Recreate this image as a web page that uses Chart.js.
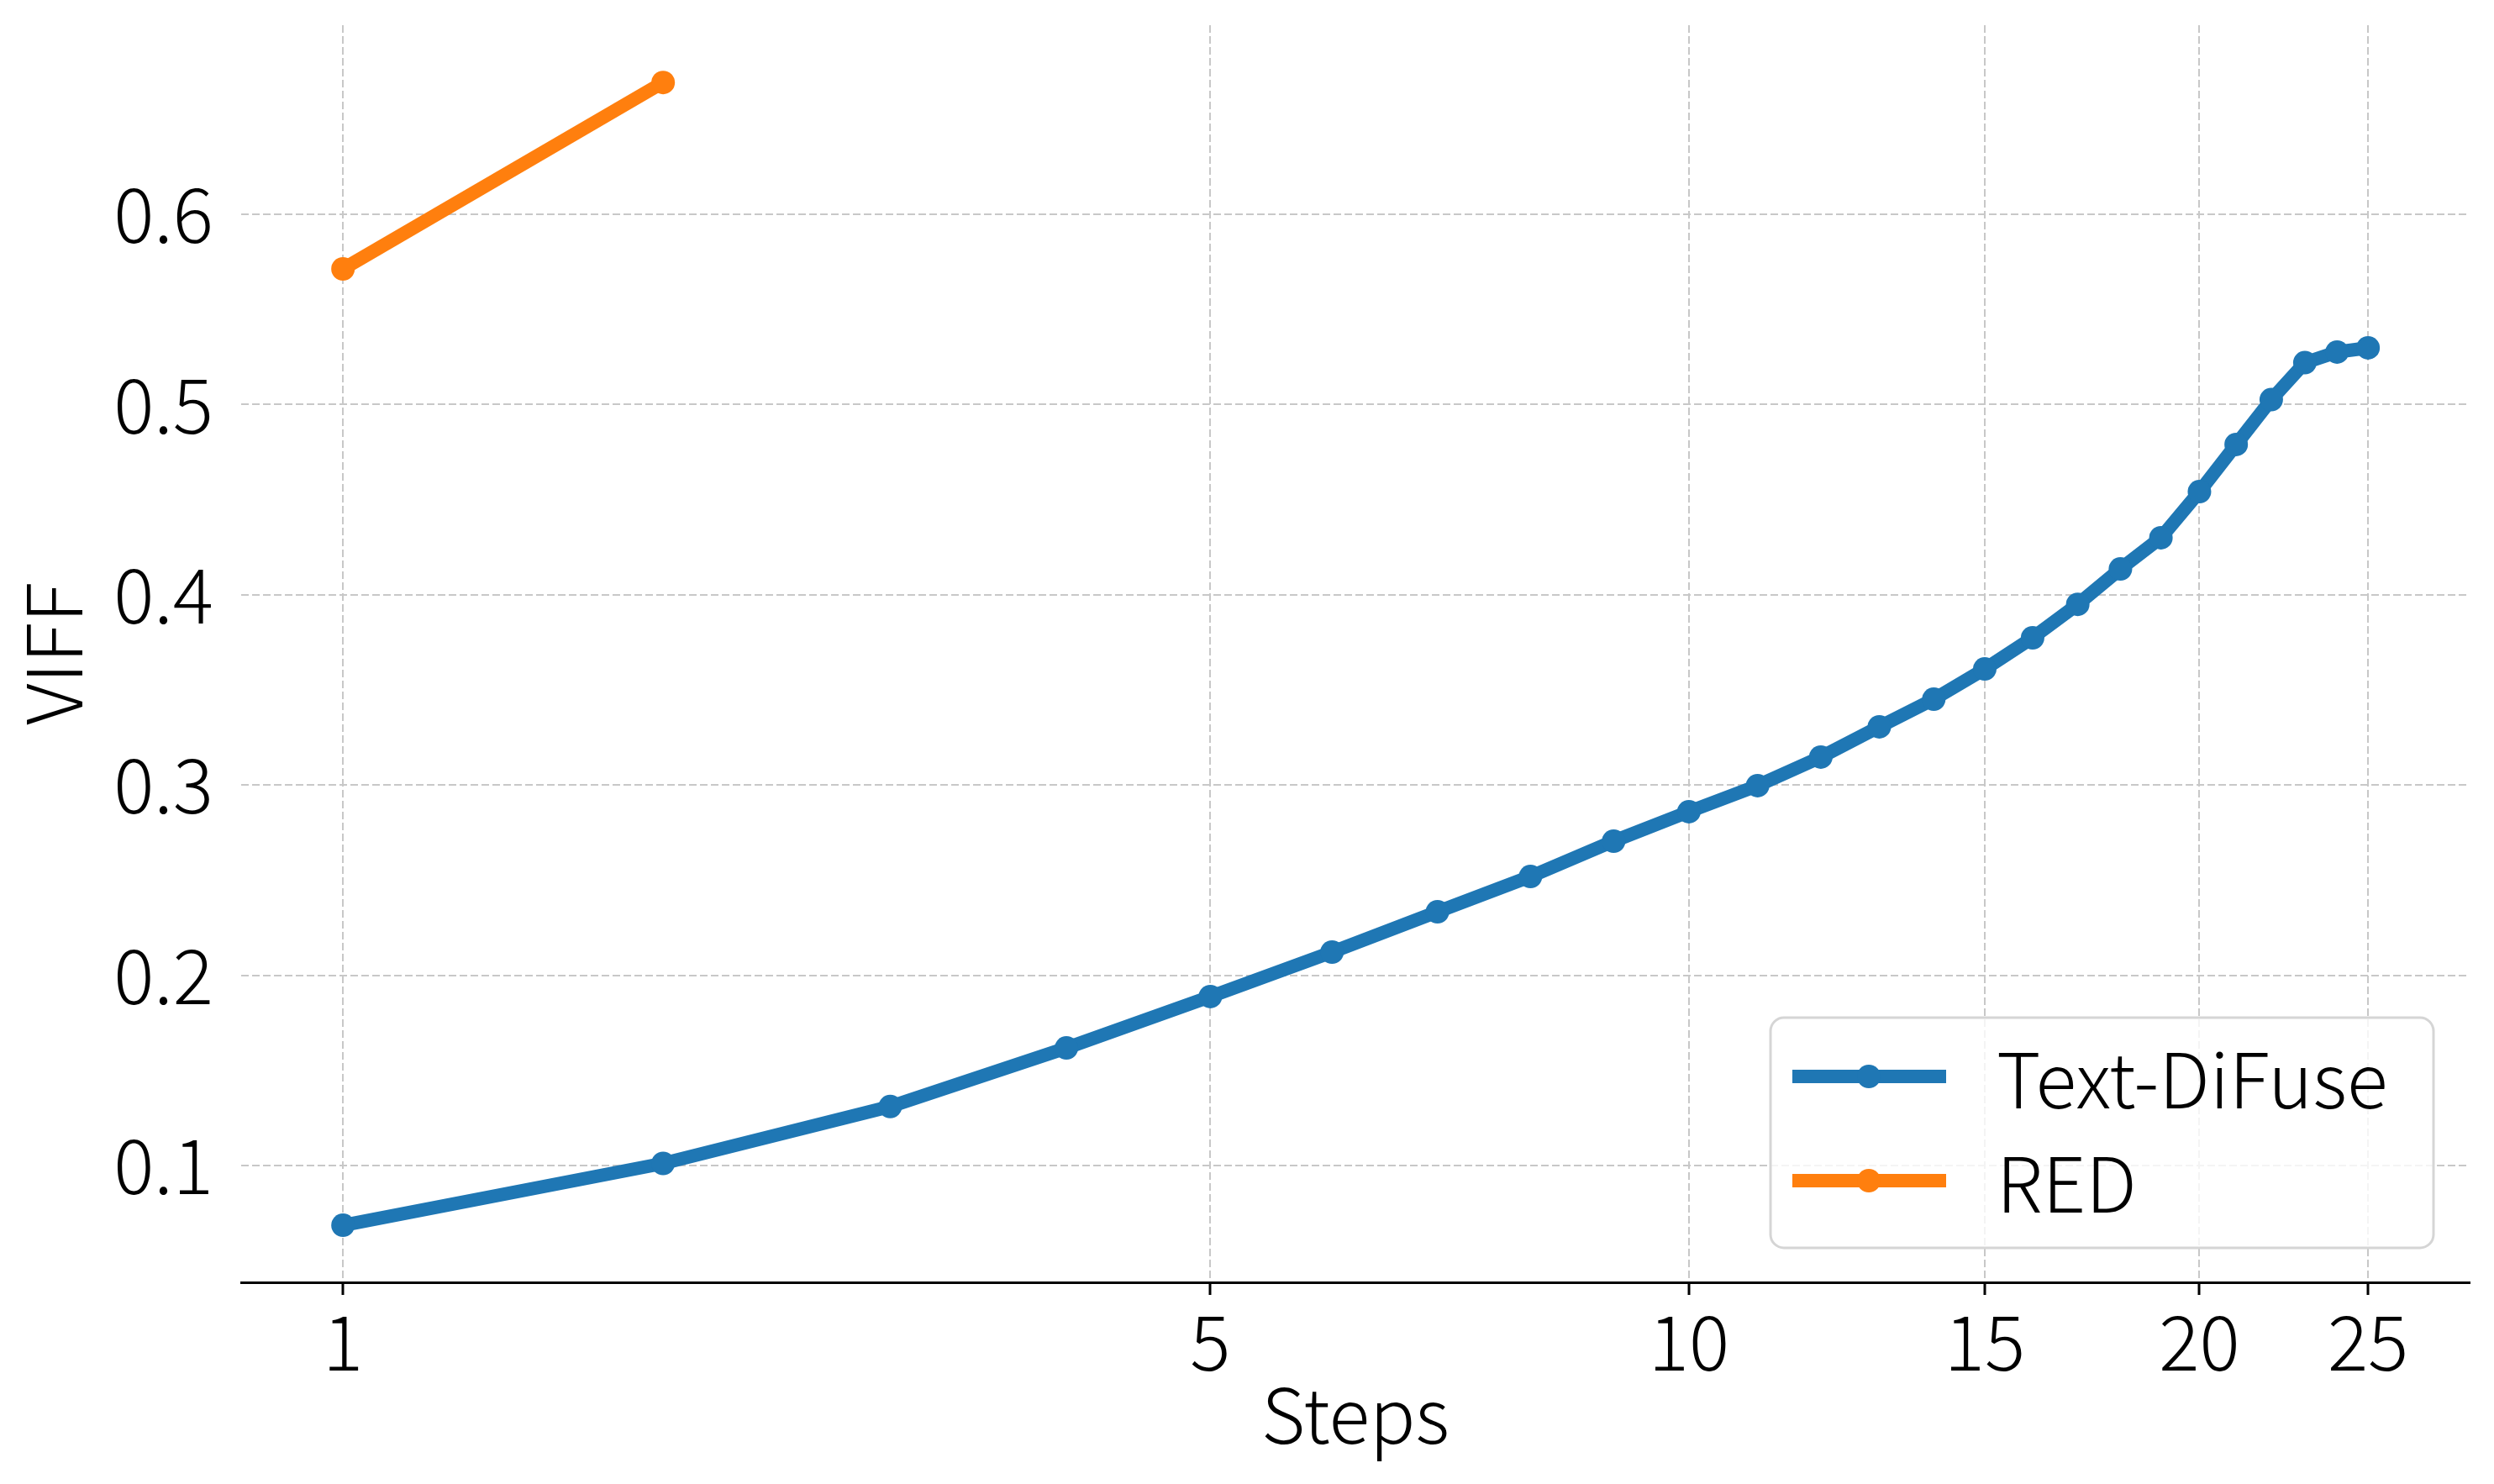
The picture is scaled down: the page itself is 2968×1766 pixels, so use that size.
<!DOCTYPE html>
<html>
<head>
<meta charset="utf-8">
<script src="https://cdn.jsdelivr.net/npm/chart.js@4.4.0/dist/chart.umd.min.js"></script>
<style>
  body { margin: 0; background: #fff; }
  canvas { display: block; }
</style>
</head>
<body>
<canvas id="chart" width="2968" height="1766"></canvas>
<script>
// data
const textDiFuseSteps = [1, 2, 3, 4, 5, 6, 7, 8, 9, 10, 11, 12, 13, 14, 15, 16, 17, 18, 19, 20, 21, 22, 23, 24, 25];
const textDiFuseViff = [0.0686, 0.1011, 0.131, 0.1618, 0.1888, 0.2122, 0.2334, 0.2519, 0.2705, 0.286,
    0.2997, 0.3147, 0.3306, 0.3451, 0.361, 0.3774, 0.395, 0.4136, 0.430, 0.4542,
    0.479, 0.5026, 0.522, 0.5276, 0.5298];
const redSteps = [1, 2];
const redViff = [0.5713, 0.6693];
const xTicks = [1, 5, 10, 15, 20, 25];
const yTicks = [0.1, 0.2, 0.3, 0.4, 0.5, 0.6];

const FONT = '"Noto Sans CJK JP", "Noto Sans", sans-serif';
const FONT_SIZE = 90;
const FONT_WEIGHT = '300';
const BLUE = '#1f77b4';
const ORANGE = '#ff7f0e';

// x axis is spaced by log10(steps + 1)
class Log1pScale extends Chart.LinearScale {
    static id = 'log1p';
    static defaults = Chart.LinearScale.defaults;
    _t(v) { return Math.log10(v + 1); }
    getPixelForValue(value) {
        const a = this._t(this.min), b = this._t(this.max);
        return this.getPixelForDecimal((this._t(value) - a) / (b - a));
    }
    getValueForPixel(pixel) {
        const a = this._t(this.min), b = this._t(this.max);
        const t = a + this.getDecimalForPixel(pixel) * (b - a);
        return Math.pow(10, t) - 1;
    }
}
Chart.register(Log1pScale);

const toPoints = (xs, ys) => xs.map((x, i) => ({ x: x, y: ys[i] }));

// legend drawn inside the plot, lower right
const insideLegend = {
    id: 'insideLegend',
    afterDatasetsDraw(chart) {
        const ctx = chart.ctx;
        const x0 = 2107, y0 = 1211, w = 789, h = 274, r = 16;
        ctx.save();
        ctx.beginPath();
        ctx.roundRect(x0, y0, w, h, r);
        ctx.fillStyle = 'rgba(255,255,255,0.8)';
        ctx.fill();
        ctx.lineWidth = 3;
        ctx.strokeStyle = '#d5d5d5';
        ctx.stroke();
        const rows = [1281, 1405];
        chart.data.datasets.forEach((ds, i) => {
            const y = rows[i];
            ctx.beginPath();
            ctx.moveTo(2133, y);
            ctx.lineTo(2316, y);
            ctx.lineWidth = ds.borderWidth;
            ctx.strokeStyle = ds.borderColor;
            ctx.stroke();
            ctx.beginPath();
            ctx.arc(2224, y, ds.pointRadius, 0, Math.PI * 2);
            ctx.fillStyle = ds.borderColor;
            ctx.fill();
            ctx.fillStyle = '#000';
            ctx.font = FONT_WEIGHT + ' ' + FONT_SIZE + 'px ' + FONT;
            ctx.textBaseline = 'middle';
            ctx.textAlign = 'left';
            ctx.fillText(ds.label, 2376, y + 4);
        });
        ctx.restore();
    }
};

const gridStyle = {
    color: '#c8c8c8',
    lineWidth: 2
};

new Chart(document.getElementById('chart'), {
    type: 'line',
    data: {
        datasets: [{
            label: 'Text-DiFuse',
            data: toPoints(textDiFuseSteps, textDiFuseViff),
            borderColor: BLUE,
            backgroundColor: BLUE,
            borderWidth: 16,
            pointRadius: 14,
            pointBorderWidth: 0,
            tension: 0
        }, {
            label: 'RED',
            data: toPoints(redSteps, redViff),
            borderColor: ORANGE,
            backgroundColor: ORANGE,
            borderWidth: 16,
            pointRadius: 14,
            pointBorderWidth: 0,
            tension: 0
        }]
    },
    options: {
        responsive: false,
        animation: false,
        layout: { padding: { top: 30, right: 29, bottom: 0, left: 0 } },
        plugins: {
            legend: { display: false },
            tooltip: { enabled: false }
        },
        scales: {
            x: {
                type: 'log1p',
                min: 0.758,
                max: 28.57,
                bounds: 'data',
                afterBuildTicks: scale => { scale.ticks = xTicks.map(v => ({ value: v })); },
                afterFit: scale => {
                    scale.height = 240;
                    scale.paddingLeft = 0;
                    scale.paddingRight = 0;
                },
                grid: {
                    ...gridStyle,
                    drawTicks: true,
                    tickLength: 15,
                    tickColor: '#000',
                    tickWidth: 3,
                    tickBorderDash: []
                },
                border: { display: true, color: '#000', width: 3, dash: [9, 4] },
                ticks: {
                    autoSkip: false,
                    maxRotation: 0,
                    padding: 2,
                    color: '#000',
                    font: { family: FONT, size: FONT_SIZE, weight: FONT_WEIGHT },
                    callback: v => String(v)
                },
                title: {
                    display: true,
                    text: 'Steps',
                    color: '#000',
                    font: { family: FONT, size: FONT_SIZE, weight: FONT_WEIGHT, lineHeight: 1.2 },
                    padding: { top: 0, bottom: 28 }
                }
            },
            y: {
                min: 0.0386,
                max: 0.6994,
                bounds: 'data',
                afterBuildTicks: scale => { scale.ticks = yTicks.map(v => ({ value: v })); },
                afterFit: scale => {
                    scale.width = 287;
                    scale.paddingTop = 0;
                    scale.paddingBottom = 0;
                },
                grid: { ...gridStyle, drawTicks: false },
                border: { display: false, dash: [9, 4] },
                ticks: {
                    padding: 33,
                    color: '#000',
                    font: { family: FONT, size: FONT_SIZE, weight: FONT_WEIGHT },
                    callback: v => v.toFixed(1)
                },
                title: {
                    display: true,
                    text: 'VIFF',
                    color: '#000',
                    font: { family: FONT, size: FONT_SIZE, weight: FONT_WEIGHT, lineHeight: 1.2 },
                    padding: { top: 10, bottom: 0 }
                }
            }
        }
    },
    plugins: [insideLegend]
});
</script>
</body>
</html>
